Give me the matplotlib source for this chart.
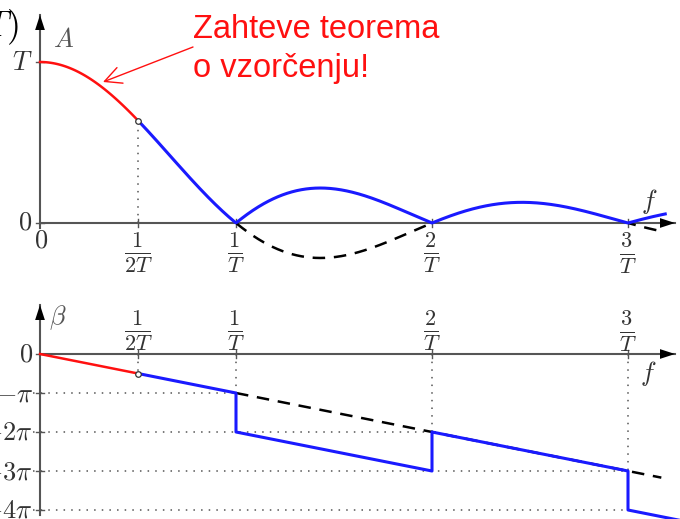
import matplotlib.pyplot as plt
import numpy as np

plt.rcParams['mathtext.fontset'] = 'cm'

W, H = 680, 519

# frequency in units of 1/T, amplitude in units of T, phase in units of pi
f_ticks = [0.5, 1, 2, 3]
f_tick_labels = [r'$\frac{1}{2T}$', r'$\frac{1}{T}$', r'$\frac{2}{T}$', r'$\frac{3}{T}$']
f_half = 0.5
f_end = 3.19

A_ticks = [0, 1]
beta_ticks = [0, -1, -2, -3, -4]
beta_tick_labels = [r'$0$', r'$-\pi$', r'$-2\pi$', r'$-3\pi$', r'$-4\pi$']

# phase of the spectrum: vertices of the piecewise-linear curve
beta_red_f = [0, 0.5]
beta_red_v = [0, -0.5]
beta_blue_f = [0.5, 1, 1, 2, 2, 3, 3, 3.3]
beta_blue_v = [-0.5, -1, -2, -3, -2, -3, -4, -4.3]
beta_lin_f = [1, 3.17]
beta_lin_v = [-1, -3.17]

# dotted guides: where each phase level guide ends
guide_end_f = [1, 2, 3, 3]
guide_levels = [-1, -2, -3, -4]

note_lines = ['Zahteve teorema', 'o vzorčenju!']

RED = '#ff1010'
BLUE = '#1a1aff'
AXC = '#555555'
TXT = '#333333'


def px(x, y):
    return x / W, 1 - y / H


fig = plt.figure(figsize=(6.8, 5.19), dpi=100)

# pixel layout: f=0 at x=40, 196 px per 1/T
x0, xs = 40, 196
xlim = (-x0 / xs, (W - x0) / xs)

top = fig.add_axes([0, 1 - 290 / H, 1, 290 / H])
top.set_xlim(*xlim)
top.set_ylim(-(290 - 223) / 161, 223 / 161)
bot = fig.add_axes([0, 0, 1, 229 / H])
bot.set_xlim(*xlim)
bot.set_ylim(-(H - 354) / 39, (354 - 290) / 39)
for ax in (top, bot):
    ax.set_axis_off()


def axis_arrow(ax, x1, y1, x2, y2):
    ax.plot([x1, x2], [y1, y2], color=AXC, lw=1.5, zorder=2, clip_on=False)
    ax.annotate('', xy=(x2, y2), xytext=(x1, y1),
                arrowprops=dict(arrowstyle='-|>,head_length=0.4,head_width=0.13',
                                color='black', lw=0, mutation_scale=27,
                                shrinkA=0, shrinkB=0), zorder=3)


# ---- amplitude ----
ty = 1 / 161
tx = 1 / 196
axis_arrow(top, 0, 0, (675 - x0) / xs, 0)
axis_arrow(top, 0, -5 * ty, 0, (223 - 15) / 161)
for fv in f_ticks:
    top.plot([fv, fv], [-4 * ty, 4 * ty], color=AXC, lw=1, zorder=2)
for a in A_ticks:
    top.plot([-4 * tx, 4 * tx], [a, a], color=AXC, lw=1, zorder=2)

f = np.linspace(0, f_end, 800)
s = np.sinc(f)
red = f <= f_half
top.plot(f[red], np.abs(s[red]), color=RED, lw=1.8, zorder=4)
top.plot(f[f >= f_half], np.abs(s[f >= f_half]), color=BLUE, lw=2.2, zorder=4)
neg = (f >= 1) & (f <= 2)
top.plot(f[neg], s[neg], color='black', lw=1.8, ls=(0, (5, 3.5)), zorder=3)
neg2 = (f >= 3) & (f <= 3.17)
top.plot(f[neg2], s[neg2], color='black', lw=1.8, ls=(2, (5, 3.5)), zorder=3)

a_half = np.sinc(f_half)
top.plot([f_half, f_half], [0, a_half], color=AXC, lw=1.1, ls=(0, (1, 4)), zorder=1)
top.plot([f_half], [a_half], marker='o', ms=4, mfc='white', mec=TXT, mew=0.9, zorder=5)

fig.text(*px(25, 222), r'$0$', fontsize=19, color=TXT, ha='center', va='center')
fig.text(*px(22, 63), r'$T$', fontsize=19, color=TXT, ha='center', va='center')
fig.text(*px(41, 241), r'$0$', fontsize=19, color=TXT, ha='center', va='center')
fig.text(*px(64, 40), r'$A$', fontsize=19, color='#555555', ha='center', va='center')
fig.text(*px(649, 202), r'$f$', fontsize=19, color=TXT, ha='center', va='center')
for fv, lab in zip(f_ticks, f_tick_labels):
    fig.text(*px(x0 + fv * xs, 253), lab, fontsize=23, color=TXT, ha='center', va='center')

fig.text(*px(19, 27), r'$fT)$', fontsize=26, color='black', ha='right', va='center')

for i, line in enumerate(note_lines):
    fig.text(*px(193, 38 + 39 * i), line, fontsize=23.5, color=RED,
             family='Liberation Sans', ha='left', va='baseline')
top.annotate('', xy=((103 - x0) / xs, (223 - 82) / 161),
             xytext=((193 - x0) / xs, (223 - 47) / 161),
             arrowprops=dict(arrowstyle='->,head_length=0.6,head_width=0.3', color=RED,
                             lw=1.0, mutation_scale=20, shrinkA=0, shrinkB=0))

# ---- phase ----
by = 1 / 39
axis_arrow(bot, 0, 0, (675 - x0) / xs, 0)
axis_arrow(bot, 0, -(515 - 354) / 39, 0, (354 - 305) / 39)
for fv in f_ticks:
    bot.plot([fv, fv], [-4 * by, 4 * by], color=AXC, lw=1, zorder=2)
for b in beta_ticks:
    bot.plot([-4 * tx, 4 * tx], [b, b], color=AXC, lw=1, zorder=2)

for fe, lv in zip(guide_end_f, guide_levels):
    bot.plot([-7 * tx, fe], [lv, lv], color=AXC, lw=1.1, ls=(0, (1, 4)), zorder=1)
for fv, bv in zip(f_ticks, [-0.5, -1, -2, -3]):
    bot.plot([fv, fv], [0, bv], color=AXC, lw=1.1, ls=(0, (1, 4)), zorder=1)

bot.plot(beta_lin_f, beta_lin_v, color='black', lw=1.8, ls=(0, (5, 3.5)), zorder=3)
bot.plot(beta_red_f, beta_red_v, color=RED, lw=1.8, zorder=4)
bot.plot(beta_blue_f, beta_blue_v, color=BLUE, lw=2.2, zorder=4, clip_on=False)
bot.plot([f_half], [-0.5], marker='o', ms=4, mfc='white', mec=TXT, mew=0.9, zorder=5)

for bv, lab in zip(beta_ticks, beta_tick_labels):
    fig.text(*px(33, 355 - bv * 39), lab, fontsize=19, color=TXT, ha='right', va='center')
fig.text(*px(58, 318), r'$\beta$', fontsize=19, color='#555555', ha='center', va='center')
fig.text(*px(648, 374), r'$f$', fontsize=19, color=TXT, ha='center', va='center')
for fv, lab in zip(f_ticks, f_tick_labels):
    fig.text(*px(x0 + fv * xs, 331), lab, fontsize=23, color=TXT, ha='center', va='center')

fig.savefig('out.png', dpi=100)
